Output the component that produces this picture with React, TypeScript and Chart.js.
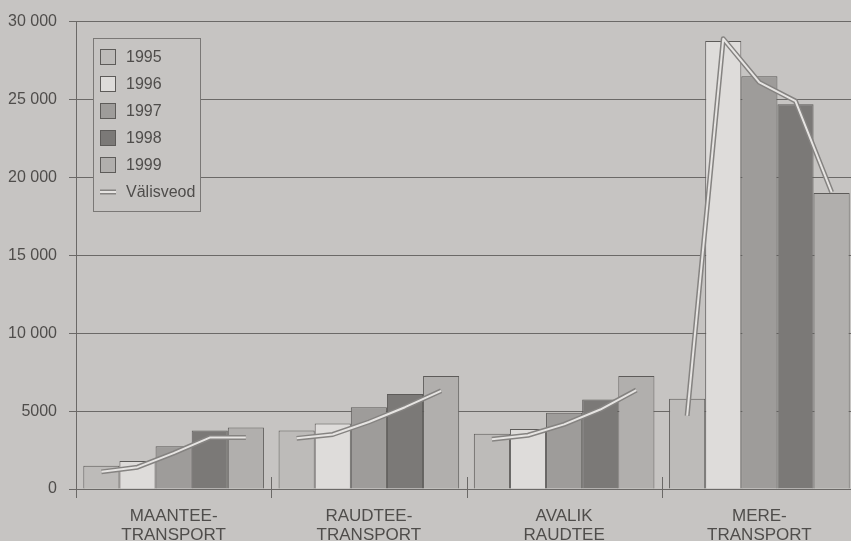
import React, { useEffect, useRef } from "react";
import { Chart, registerables } from "chart.js";

Chart.register(...registerables);

// Freight categories (two-line axis labels)
const CATEGORIES: string[][] = [
  ["MAANTEE-", "TRANSPORT"],
  ["RAUDTEE-", "TRANSPORT"],
  ["AVALIK", "RAUDTEE"],
  ["MERE-", "TRANSPORT"],
];

const YEARS = ["1995", "1996", "1997", "1998", "1999"];

// Volumes per year, one value per category
const V1995 = [1500, 3750, 3550, 5800];
const V1996 = [1800, 4200, 3850, 28750];
const V1997 = [2750, 5250, 4900, 26500];
const V1998 = [3750, 6100, 5750, 24700];
const V1999 = [3950, 7250, 7250, 19000];

// International traffic ("Välisveod"), one value per year inside each category
const VALIS_MAANTEE = [1100, 1400, 2300, 3300, 3300];
const VALIS_RAUDTEE = [3250, 3500, 4300, 5250, 6300];
const VALIS_AVALIK = [3200, 3450, 4150, 5100, 6350];
const VALIS_MERE = [4700, 28900, 26100, 24900, 19050];

const Y_TICKS = [0, 5000, 10000, 15000, 20000, 25000, 30000];
const Y_TICK_LABELS = ["0", "5000", "10 000", "15 000", "20 000", "25 000", "30 000"];

const BAR_SERIES = [V1995, V1996, V1997, V1998, V1999];
const VALIS_SERIES = [VALIS_MAANTEE, VALIS_RAUDTEE, VALIS_AVALIK, VALIS_MERE];

const BAR_COLORS = ["#bdbbb9", "#dedcda", "#9e9c9a", "#7b7977", "#b1afad"];
const BG = "#c6c4c2";
const INK = "#4f4d4b";
const GRID = "#6b6967";
const EDGE = "#5d5b59";
const FONT = "'Liberation Sans', Arial, Helvetica, sans-serif";
const CAT_PCT = 0.925;

// Line points sit on the centres of the year bars of each category
// (category index + offset of the year bar inside the group)
function valisPoints() {
  const pts: { x: number; y: number | null }[] = [];
  VALIS_SERIES.forEach((vals, k) => {
    vals.forEach((v, i) => {
      pts.push({ x: k + ((i - 2) * CAT_PCT) / YEARS.length, y: v });
    });
    if (k < VALIS_SERIES.length - 1) pts.push({ x: k + 0.5, y: null });
  });
  return pts;
}

const dividerPlugin = {
  id: "groupDividers",
  afterDraw(chart: any) {
    const { ctx, chartArea } = chart;
    const xs = chart.scales.x;
    ctx.save();
    ctx.strokeStyle = GRID;
    ctx.lineWidth = 1;
    for (let i = 1; i < CATEGORIES.length; i++) {
      const x = Math.round((xs.getPixelForValue(i - 1) + xs.getPixelForValue(i)) / 2) + 0.5;
      ctx.beginPath();
      ctx.moveTo(x, chartArea.bottom - 12);
      ctx.lineTo(x, chartArea.bottom + 9);
      ctx.stroke();
    }
    // y axis runs a little below the base line
    const ax = Math.round(chartArea.left) + 0.5;
    ctx.beginPath();
    ctx.moveTo(ax, chartArea.bottom);
    ctx.lineTo(ax, chartArea.bottom + 9);
    ctx.stroke();
    ctx.restore();
  },
};

const legendPlugin = {
  id: "boxLegend",
  afterDraw(chart: any) {
    const { ctx } = chart;
    const left = 93.5;
    const top = 38.5;
    const w = 107;
    const h = 173;
    ctx.save();
    ctx.fillStyle = BG;
    ctx.fillRect(left, top, w, h);
    ctx.strokeStyle = "#7a7876";
    ctx.lineWidth = 1;
    ctx.strokeRect(left, top, w, h);
    ctx.font = `16px ${FONT}`;
    ctx.textBaseline = "middle";
    ctx.textAlign = "left";
    const rowY = (r: number) => 57 + r * 27;
    let r = 0;
    chart.data.datasets.forEach((ds: any) => {
      if (ds.hideInLegend) return;
      const cy = rowY(r);
      if (ds.type === "line") {
        ctx.strokeStyle = "#858381";
        ctx.lineWidth = 5;
        ctx.beginPath();
        ctx.moveTo(100, cy);
        ctx.lineTo(116, cy);
        ctx.stroke();
        ctx.strokeStyle = "#e6e4e2";
        ctx.lineWidth = 2;
        ctx.beginPath();
        ctx.moveTo(100, cy);
        ctx.lineTo(116, cy);
        ctx.stroke();
      } else {
        ctx.fillStyle = ds.backgroundColor;
        ctx.fillRect(100.5, cy - 7.5, 15, 15);
        ctx.strokeStyle = EDGE;
        ctx.lineWidth = 1;
        ctx.strokeRect(100.5, cy - 7.5, 15, 15);
      }
      ctx.fillStyle = INK;
      ctx.fillText(ds.label, 126, cy + 1);
      r++;
    });
    ctx.restore();
  },
};

export default function App() {
  const ref = useRef<HTMLCanvasElement | null>(null);

  useEffect(() => {
    if (!ref.current) return;
    const pts = valisPoints();
    const lineBase = {
      type: "line" as const,
      data: pts as any,
      parsing: false as const,
      pointRadius: 0,
      spanGaps: false,
      tension: 0,
      borderJoinStyle: "round" as const,
    };
    const chart = new Chart(ref.current, {
      type: "bar",
      data: {
        labels: CATEGORIES as any,
        datasets: [
          ...BAR_SERIES.map((vals, i) => ({
            type: "bar" as const,
            label: YEARS[i],
            data: vals,
            backgroundColor: BAR_COLORS[i],
            borderColor: EDGE,
            borderWidth: 1,
            barPercentage: 1,
            categoryPercentage: CAT_PCT,
            order: 3,
          })),
          {
            ...lineBase,
            label: "Välisveod",
            borderColor: "#858381",
            borderWidth: 5,
            order: 2,
          },
          {
            ...lineBase,
            label: "Välisveod",
            hideInLegend: true,
            borderColor: "#e6e4e2",
            borderWidth: 2,
            order: 1,
          } as any,
        ],
      },
      options: {
        animation: false,
        responsive: false,
        devicePixelRatio: 1,
        layout: { padding: { top: 15, right: 0, left: 0, bottom: 0 } },
        plugins: {
          legend: { display: false },
          tooltip: { enabled: false },
        },
        scales: {
          x: {
            type: "category",
            offset: true,
            grid: { display: false, drawTicks: false, tickLength: 0 },
            border: { display: false },
            ticks: {
              color: INK,
              font: { family: FONT, size: 17, lineHeight: 1.12 },
              padding: 18,
              maxRotation: 0,
              autoSkip: false,
            },
            afterFit(scale: any) {
              scale.height = 52;
            },
          },
          y: {
            type: "linear",
            min: 0,
            max: 30000,
            afterBuildTicks(scale: any) {
              scale.ticks = Y_TICKS.map((v) => ({ value: v }));
            },
            grid: { color: GRID, lineWidth: 1, drawTicks: true, tickLength: 7 },
            border: { display: true, color: GRID, width: 1 },
            ticks: {
              color: INK,
              font: { family: FONT, size: 16 },
              padding: 12,
              callback: (v: any) => Y_TICK_LABELS[Y_TICKS.indexOf(Number(v))],
            },
            afterFit(scale: any) {
              scale.width = 76;
            },
          },
        },
      },
      plugins: [dividerPlugin, legendPlugin],
    });
    return () => chart.destroy();
  }, []);

  return (
    <div
      style={{
        position: "fixed",
        left: 0,
        top: 0,
        width: 851,
        height: 541,
        overflow: "hidden",
        background: BG,
      }}
    >
      <canvas ref={ref} width={857} height={541} style={{ display: "block" }} />
    </div>
  );
}
